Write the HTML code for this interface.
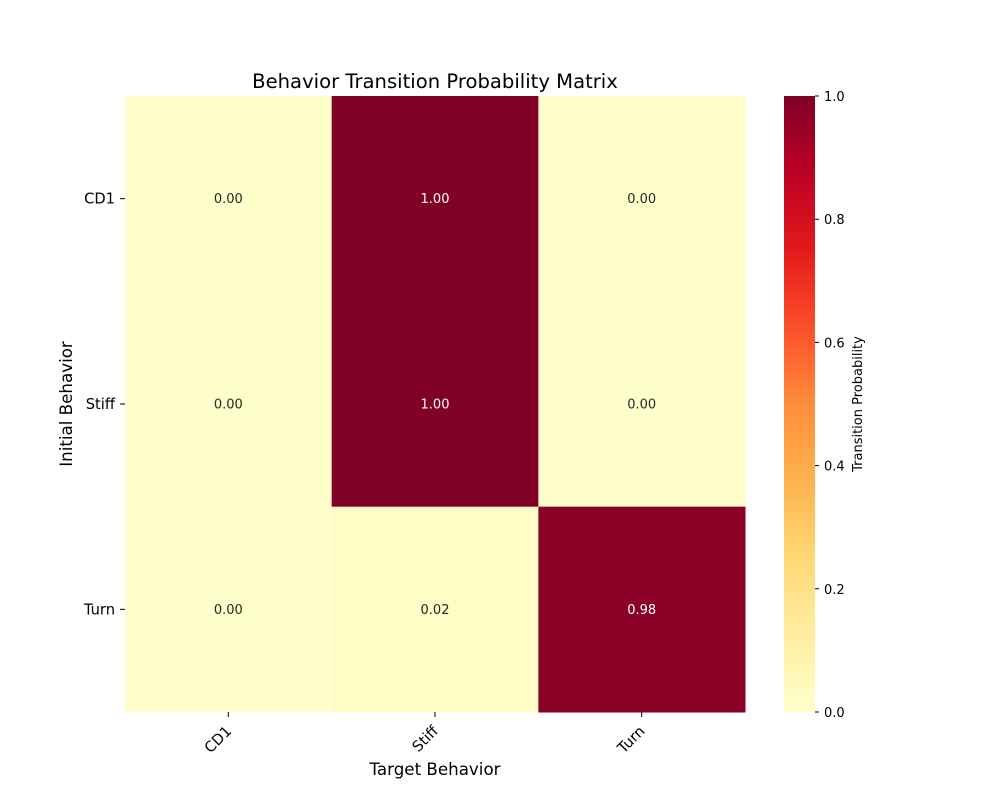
<!DOCTYPE html>
<html><head><meta charset="utf-8"><style>
body{margin:0;background:#fff;}
text{font-family:"DejaVu Sans","Liberation Sans",sans-serif;}
</style></head><body>
<svg id="chart" width="1000" height="800" xmlns="http://www.w3.org/2000/svg">
<defs><linearGradient id="cbg" x1="0" y1="1" x2="0" y2="0"></linearGradient></defs>
</svg>
<script>
const rowLabels=["CD1","Stiff","Turn"];
const colLabels=["CD1","Stiff","Turn"];
const values=[[0.00,1.00,0.00],[0.00,1.00,0.00],[0.003,0.02,0.98]];
const printed=[["0.00","1.00","0.00"],["0.00","1.00","0.00"],["0.00","0.02","0.98"]];
const cbTicks=[0,0.2,0.4,0.6,0.8,1.0];
const cbTickLabels=["0.0","0.2","0.4","0.6","0.8","1.0"];

const stops=["#ffffcc","#ffeda0","#fed976","#feb24c","#fd8d3c","#fc4e2a","#e31a1c","#bd0026","#800026"];
function hex(h){return [1,3,5].map(i=>parseInt(h.substr(i,2),16));}
function cmap(v){v=Math.max(0,Math.min(1,v));const t=v*(stops.length-1);const i=Math.min(stops.length-2,Math.floor(t));const f=t-i;const a=hex(stops[i]),b=hex(stops[i+1]);return "rgb("+a.map((x,k)=>Math.round(x+(b[k]-x)*f)).join(",")+")";}
const svg=document.getElementById('chart');const NS="http://www.w3.org/2000/svg";
function el(t,a,p){const e=document.createElementNS(NS,t);for(const k in a)e.setAttribute(k,a[k]);(p||svg).appendChild(e);return e;}
const X0=125,X1=745,Y0=96,Y1=712;
const cw=(X1-X0)/colLabels.length,ch=(Y1-Y0)/rowLabels.length;
const xs=j=>X0+j*cw,ys=i=>Y0+i*ch;
const g=el('g',{});

values.forEach((row,i)=>row.forEach((v,j)=>{
 const r=el('rect',{x:xs(j),y:ys(i),width:cw+0.5,height:ch+0.5,fill:cmap(v)},g);
 
 
 const t=el('text',{x:xs(j)+cw/2,y:ys(i)+ch/2+4.5,'text-anchor':'middle','font-size':13,fill:v>0.5?'#fff':'#262626'},g);
 t.textContent=printed[i][j];
 
}));
rowLabels.forEach((l,i)=>{const y=ys(i)+ch/2;
 el('line',{x1:X0-5,x2:X0,y1:y,y2:y,stroke:'#000','stroke-width':1});
 const t=el('text',{x:X0-10,y:y+5,'text-anchor':'end','font-size':14.7});t.textContent=l;
 });
colLabels.forEach((l,j)=>{const x=xs(j)+cw/2;
 el('line',{x1:x,x2:x,y1:Y1,y2:Y1+5,stroke:'#000','stroke-width':1});
 const t=el('text',{x:x+4,y:Y1+20,'text-anchor':'end','font-size':14.7,transform:`rotate(-45 ${x+4} ${Y1+20})`});t.textContent=l;
 });
let t=el('text',{x:435,y:88,'text-anchor':'middle','font-size':19.6});t.textContent="Behavior Transition Probability Matrix";

t=el('text',{x:435,y:775,'text-anchor':'middle','font-size':16.7});t.textContent="Target Behavior";

t=el('text',{x:72,y:404,'text-anchor':'middle','font-size':16.7,transform:'rotate(-90 72 404)'});t.textContent="Initial Behavior";

const grad=document.getElementById('cbg');
for(let k=0;k<=20;k++){el('stop',{offset:k/20,'stop-color':cmap(k/20)},grad);}
const CX0=784,CX1=815;
const cb=el('rect',{x:CX0,y:Y0,width:CX1-CX0,height:Y1-Y0,fill:'url(#cbg)'});

const cy=v=>Y1-v*(Y1-Y0);
cbTicks.forEach((v,k)=>{const y=cy(v);
 el('line',{x1:CX1,x2:CX1+4,y1:y,y2:y,stroke:'#000','stroke-width':1});
 const tt=el('text',{x:CX1+9,y:y+5,'font-size':13});tt.textContent=cbTickLabels[k];
 });
t=el('text',{x:862,y:404,'text-anchor':'middle','font-size':13,transform:'rotate(-90 862 404)'});t.textContent="Transition Probability";

</script>
</body></html>
